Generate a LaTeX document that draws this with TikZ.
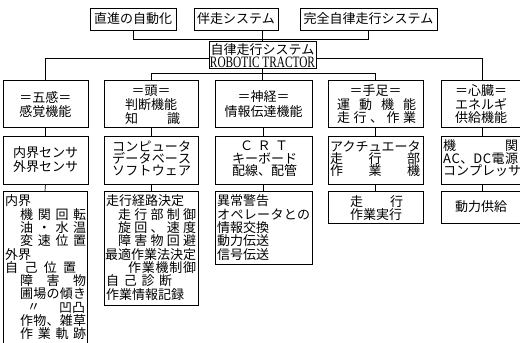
\documentclass[tikz,border=0pt]{standalone}
\usepackage{fontspec}
\usepackage{graphicx}
\newfontfamily\jp{Noto Sans CJK JP}
\newfontfamily\libser{Liberation Serif}
\newcommand{\spr}[2]{\makebox[#1pt][s]{#2}}
\begin{document}
\begin{tikzpicture}[x=1pt,y=-1pt,
  box/.style={draw, line width=0.7pt, anchor=north west, inner sep=0pt, outer sep=0pt},
  tx/.style={font=\jp\fontsize{13}{13}\selectfont, inner sep=0pt},
  lt/.style={tx, anchor=west},
  ln/.style={line width=0.7pt}]
\useasboundingbox (0,0) rectangle (520,343);
% ---- top boxes
\node[box, minimum width=86pt, minimum height=22pt] (t1) at (90,8) {};
\node[box, minimum width=84pt, minimum height=22pt] (t2) at (194,8) {};
\node[box, minimum width=137pt, minimum height=22pt] (t3) at (300,8) {};
\node[tx] (t1t) at (t1.center) {直進の自動化};
\node[tx] (t2t) at (t2.center) {伴走システム};
\node[tx] (t3t) at (t3.center) {完全自律走行システム};
% ---- centre box
\node[box, minimum width=107pt, minimum height=27pt] (ctr) at (209,41) {};
\node[tx] (ctra) at (262.5,50) {自律走行システム};
\node[inner sep=0pt] (ctrb) at (262.5,62.3) {\resizebox{105pt}{10.5pt}{\libser ROBOTIC TRACTOR}};
% ---- row 1
\node[box, minimum width=85pt, minimum height=47pt] (a1) at (3,80) {};
\node[box, minimum width=94pt, minimum height=47pt] (b1) at (104,80) {};
\node[box, minimum width=97pt, minimum height=47pt] (c1) at (215,80) {};
\node[box, minimum width=95pt, minimum height=47pt] (d1) at (328,80) {};
\node[box, minimum width=82pt, minimum height=47pt] (e1) at (441,80) {};
% ---- row 2
\node[box, minimum width=85pt, minimum height=48pt] (a2) at (3,136) {};
\node[box, minimum width=94pt, minimum height=48pt] (b2) at (104,136) {};
\node[box, minimum width=97pt, minimum height=48pt] (c2) at (215,136) {};
\node[box, minimum width=95pt, minimum height=48pt] (d2) at (328,136) {};
\node[box, minimum width=82pt, minimum height=48pt] (e2) at (441,136) {};
% ---- row 3
\node[box, minimum width=84pt, minimum height=165pt] (a3) at (3,191) {};
\node[box, minimum width=94pt, minimum height=114pt] (b3) at (104,191) {};
\node[box, minimum width=97pt, minimum height=73pt] (c3) at (215,191) {};
\node[box, minimum width=95pt, minimum height=32pt] (d3) at (328,191) {};
\node[box, minimum width=82pt, minimum height=32pt] (e3) at (441,191) {};
% ---- connectors
\coordinate (hy) at (0,39);
\coordinate (hz) at (0,73);
\draw[ln] (t1.south) -- (t1.south |- hy) -- (t3.south |- hy) -- (t3.south);
\draw[ln] (t2.south -| ctr.north) -- (ctr.north);
\draw[ln] ([yshift=-3.5pt]ctr.west) -| (a1.north);
\draw[ln] ([yshift=-3.5pt]ctr.east) -| (e1.north);
\draw[ln] (ctr.south) -- (ctr.south |- c1.north);
\draw[ln] (b1.north) -- (b1.north |- hz) -- (d1.north |- hz) -- (d1.north);
\foreach \c in {a,b,c,d,e}{
  \draw[ln] (\c1.south) -- (\c2.north);
  \draw[ln] (\c2.south) -- (\c3.north);
}
% ---- row 1 texts
\node[tx] (a1a) at (45.5,97) {＝五感＝};
\node[tx] (a1b) at (45.5,112) {感覚機能};
\node[tx] (b1a) at (151,91) {＝頭＝};
\node[tx] (b1b) at (151,105) {判断機能};
\node[lt] (b1c) at (125,119) {\spr{55}{知\hfil 識}};
\node[tx] (c1a) at (263.5,97) {＝神経＝};
\node[tx] (c1b) at (263.5,112) {情報伝達機能};
\node[tx] (d1a) at (375.5,91) {＝手足＝};
\node[lt] (d1b) at (337,104.5) {\spr{79}{運\hfil 動\hfil 機\hfil 能}};
\node[lt] (d1c) at (337,118) {\spr{79}{走\hfil 行\hfil 、\hfil 作\hfil 業}};
\node[tx] (e1a) at (481,91) {＝心臓＝};
\node[tx] (e1b) at (481,104.5) {エネルギ};
\node[tx] (e1c) at (481,118) {供給機能};
% ---- row 2 texts
\node[tx] (a2a) at (45.5,153) {内界センサ};
\node[tx] (a2b) at (45.5,167) {外界センサ};
\node[lt] (b2a) at (112,146) {\spr{79}{コ\hfil ン\hfil ピ\hfil ュ\hfil ー\hfil タ}};
\node[lt] (b2b) at (112,158.5) {\spr{79}{デ\hfil ー\hfil タ\hfil ベ\hfil ー\hfil ス}};
\node[lt] (b2c) at (112,171) {\spr{79}{ソ\hfil フ\hfil ト\hfil ウ\hfil ェ\hfil ア}};
\node[lt] (c2a) at (240,146) {\spr{48}{Ｃ\hfil Ｒ\hfil Ｔ}};
\node[lt] (c2b) at (232,158.5) {\spr{64}{キ\hfil ー\hfil ボ\hfil ー\hfil ド}};
\node[lt] (c2c) at (232,171) {\spr{64}{配\hfil 線\hfil 、\hfil 配\hfil 管}};
\node[lt] (d2a) at (330,146) {アクチュエータ};
\node[lt] (d2b) at (330,158.5) {\spr{90}{走\hfil 行\hfil 部}};
\node[lt] (d2c) at (330,171) {\spr{90}{作\hfil 業\hfil 機}};
\node[lt] (e2a) at (443,146) {\spr{75}{機\hfil 関}};
\node[lt] (e2b) at (443,158.5) {\spr{75}{A\hfil C\hfil 、D\hfil C\hfil 電\hfil 源}};
\node[lt] (e2c) at (443,171) {\spr{75}{コ\hfil ン\hfil プ\hfil レ\hfil ッ\hfil サ}};
% ---- row 3 texts: 五感
\node[lt] (a3a) at (5,201) {内界};
\node[lt] (a3b) at (20,214.3) {\spr{66}{機\hfil 関\hfil 回\hfil 転}};
\node[lt] (a3c) at (20,227.6) {\spr{66}{油\hfil ・\hfil 水\hfil 温}};
\node[lt] (a3d) at (20,240.9) {\spr{66}{変\hfil 速\hfil 位\hfil 置}};
\node[lt] (a3e) at (5,254.2) {外界};
\node[lt] (a3f) at (5,267.5) {\spr{71}{自\hfil 己\hfil 位\hfil 置}};
\node[lt] (a3g) at (20,280.8) {\spr{66}{障\hfil 害\hfil 物}};
\node[lt] (a3h) at (20,294.1) {\spr{66}{圃\hfil 場\hfil の\hfil 傾\hfil き}};
\node[lt] (a3i) at (27,307.4) {〃};
\node[lt] (a3j) at (59,307.4) {凹凸};
\node[lt] (a3k) at (20,320.7) {\spr{66}{作\hfil 物\hfil 、\hfil 雑\hfil 草}};
\node[lt] (a3l) at (20,334) {\spr{66}{作\hfil 業\hfil 軌\hfil 跡}};
% ---- row 3 texts: 頭
\node[lt] (b3a) at (106,201) {走行経路決定};
\node[lt] (b3b) at (118,214.3) {\spr{78}{走\hfil 行\hfil 部\hfil 制\hfil 御}};
\node[lt] (b3c) at (118,227.6) {\spr{78}{旋\hfil 回\hfil 、\hfil 速\hfil 度}};
\node[lt] (b3d) at (118,240.9) {\spr{78}{障\hfil 害\hfil 物\hfil 回\hfil 避}};
\node[lt] (b3e) at (105,254.2) {\spr{91}{最\hfil 適\hfil 作\hfil 業\hfil 法\hfil 決\hfil 定}};
\node[lt] (b3f) at (128,267.5) {\spr{68}{作\hfil 業\hfil 機\hfil 制\hfil 御}};
\node[lt] (b3g) at (106,280.8) {\spr{66}{自\hfil 己\hfil 診\hfil 断}};
\node[lt] (b3h) at (106,294.1) {作業情報記録};
% ---- row 3 texts: 神経
\node[lt] (c3a) at (217,201) {異常警告};
\node[lt] (c3b) at (217,214.3) {\spr{93}{オ\hfil ペ\hfil レ\hfil ー\hfil タ\hfil と\hfil の}};
\node[lt] (c3c) at (217,227.6) {情報交換};
\node[lt] (c3d) at (217,240.9) {動力伝送};
\node[lt] (c3e) at (217,254.2) {信号伝送};
% ---- row 3 texts: 手足, 心臓
\node[lt] (d3a) at (350,202) {\spr{53}{走\hfil 行}};
\node[lt] (d3b) at (350,215) {作業実行};
\node[tx] (e3a) at (481,207) {動力供給};
\end{tikzpicture}
\end{document}
